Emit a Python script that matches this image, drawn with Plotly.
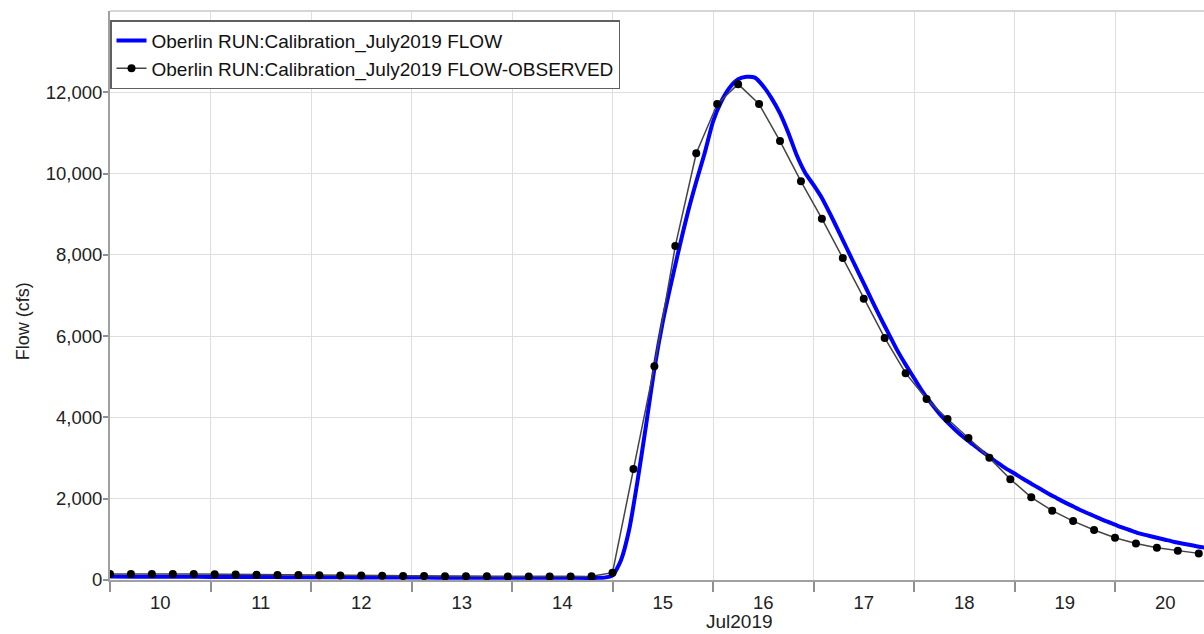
import plotly.graph_objects as go
import pandas as pd

# ---------------- data ----------------
# Observed flow (cfs), one marker every 5 hours starting 2019-07-10 00:00
obs_flow = [
    145, 150, 150, 148, 145, 140, 135, 130, 125, 120, 115, 112, 110, 105, 100,
    98, 95, 92, 90, 88, 86, 85, 88, 92, 180,
    2730, 5260, 8220, 10500, 11710, 12200, 11710, 10800, 9810, 8890,
    7920, 6920, 5955, 5090, 4455, 3960, 3495, 3005, 2480, 2035,
    1705, 1450, 1230, 1040, 900, 795, 720, 655,
]
obs_time = pd.date_range("2019-07-10 00:00", periods=len(obs_flow), freq="5h")

# Simulated flow (cfs): base flow every 6 h, then storm period every 2 h
sim_base_flow = [85, 82, 80, 78, 76, 74, 72, 70, 68, 66, 64, 62, 60, 58, 57, 56, 55, 54, 53, 52]
sim_base_time = pd.date_range("2019-07-10 00:00", periods=len(sim_base_flow), freq="6h")

sim_storm_flow = [
    52, 58, 110, 480, 1250, 2450, 3800, 5200, 6350, 7300, 8200, 9050, 9800, 10500,
    11280, 11780, 12120, 12320, 12380, 12360, 12150, 11850, 11480, 11000, 10450,
    10020, 9720, 9400, 9000, 8580, 8150, 7720, 7300, 6870, 6450, 6050, 5650, 5300,
    4970, 4640, 4360, 4100, 3880, 3680, 3500, 3340, 3180, 3030, 2880, 2740, 2620,
    2490, 2370, 2250, 2130, 2020, 1910, 1810, 1710, 1620, 1530, 1440, 1360, 1280,
    1210, 1140, 1090, 1040, 990, 940, 900, 860, 820, 790,
]
sim_storm_time = pd.date_range("2019-07-14 20:00", periods=len(sim_storm_flow), freq="2h")

sim_time = list(sim_base_time) + list(sim_storm_time)
sim_flow = sim_base_flow + sim_storm_flow

y_ticks = [0, 2000, 4000, 6000, 8000, 10000, 12000]

sim_name = "Oberlin RUN:Calibration_July2019 FLOW"
obs_name = "Oberlin RUN:Calibration_July2019 FLOW-OBSERVED"

# ---------------- figure ----------------
fig = go.Figure()
fig.add_trace(go.Scatter(
    x=sim_time, y=sim_flow, name=sim_name, mode="lines",
    line=dict(color="#0000FF", width=4, shape="spline", smoothing=0.6),
))
fig.add_trace(go.Scatter(
    x=obs_time, y=obs_flow, name=obs_name, mode="lines+markers",
    line=dict(color="#444444", width=1.5),
    marker=dict(color="#000000", size=8),
))

font_family = "Liberation Sans, Arial, sans-serif"

fig.update_layout(
    width=1204, height=634,
    margin=dict(l=110, r=0, t=11, b=54),
    paper_bgcolor="white", plot_bgcolor="white",
    font=dict(family=font_family, size=18, color="#222222"),
    showlegend=True,
    legend=dict(
        x=0.0, y=0.984, xanchor="left", yanchor="top",
        bgcolor="white", bordercolor="#606060", borderwidth=1.5,
        font=dict(family=font_family, size=19, color="#111111"),
        tracegroupgap=0, itemwidth=30,
    ),
    xaxis=dict(
        type="date",
        range=["2019-07-10 00:00", "2019-07-20 21:15"],
        tick0="2019-07-10", dtick=86400000,
        tickformat="%d", ticklabelmode="period",
        ticks="outside", ticklen=10, tickwidth=1.5, tickcolor="#909090",
        ticklabelstandoff=-5,
        showgrid=True, gridcolor="#dedede", gridwidth=1,
        showline=True, linecolor="#a0a0a0", linewidth=2,
        zeroline=False,
        tickfont=dict(size=18.5, color="#222222"),
    ),
    yaxis=dict(
        range=[0, 14000],
        tickvals=y_ticks, tickformat=",d",
        ticks="outside", ticklen=5, tickwidth=1.5, tickcolor="#909090",
        ticklabelstandoff=-3,
        showgrid=True, gridcolor="#dedede", gridwidth=1,
        showline=True, linecolor="#a0a0a0", linewidth=2,
        zeroline=False,
        tickfont=dict(size=18.5, color="#222222"),
    ),
    shapes=[dict(type="line", xref="paper", yref="paper", x0=0, x1=1, y0=1, y1=1,
                 line=dict(color="#c8c8c8", width=1.5))],
    annotations=[
        dict(text="Jul2019", xref="paper", yref="paper", x=0.575, y=-0.073,
             xanchor="center", yanchor="middle", showarrow=False,
             font=dict(size=19, color="#222222")),
        dict(text="Flow (cfs)", xref="paper", yref="paper", x=-0.0795, y=0.455,
             xanchor="center", yanchor="middle", textangle=-90, showarrow=False,
             font=dict(size=18, color="#222222")),
    ],
)

fig.write_html("out.html")
